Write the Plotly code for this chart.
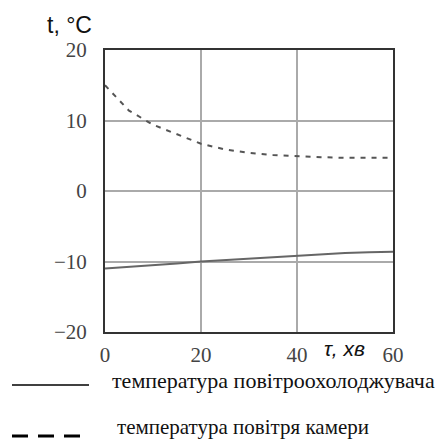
import plotly.graph_objects as go

tau = [0, 5, 10, 15, 20, 25, 30, 35, 40, 45, 50, 55, 60]
t_cooler = [-11.0, -10.8, -10.5, -10.3, -10.0, -9.8, -9.6, -9.4, -9.1, -9.0, -8.8, -8.7, -8.6]
t_chamber = [15.0, 11.4, 9.4, 8.0, 6.7, 5.9, 5.4, 5.1, 4.9, 4.8, 4.7, 4.7, 4.7]

x_ticks = [0, 20, 40, 60]
y_ticks = [-20, -10, 0, 10, 20]
legend_labels = ["температура повітроохолоджувача", "температура повітря камери"]

SERIF = "Liberation Serif"
SANS = "Liberation Sans"

fig = go.Figure()
fig.add_trace(go.Scatter(x=tau, y=t_cooler, mode="lines",
                         line=dict(color="#666666", width=2), showlegend=False))
fig.add_trace(go.Scatter(x=tau, y=t_chamber, mode="lines",
                         line=dict(color="#555555", width=2, dash="5px,6px"), showlegend=False))

W, H = 435, 441
L, R, T, B = 105, 42, 50, 109
PW, PH = W - L - R, H - T - B

axis_common = dict(showgrid=True, gridcolor="#aaaaaa", gridwidth=2,
                   zeroline=False, showline=True, linecolor="#333333", linewidth=2,
                   mirror=True, ticks="",
                   tickfont=dict(family=SERIF, size=21, color="#444444"))
fig.update_xaxes(range=[0, 60], tickvals=x_ticks, ticklabelstandoff=3, **axis_common)
fig.update_yaxes(range=[-20, 20], tickvals=y_ticks, ticklabelstandoff=12, **axis_common)

fig.update_layout(width=W, height=H, margin=dict(l=L, r=R, t=T, b=B),
                  plot_bgcolor="white", paper_bgcolor="white")

def px(x):
    return (x - L) / PW
def py(y):
    return (H - B - y) / PH

# axis titles
fig.add_annotation(text="t, °C", xref="paper", yref="paper",
                   x=px(45), y=py(25), xanchor="left", yanchor="middle",
                   showarrow=False, font=dict(family=SANS, size=23, color="#111"))
fig.add_annotation(text="<i>τ, хв</i>", xref="paper", yref="paper",
                   x=px(322), y=py(348), xanchor="left", yanchor="middle",
                   showarrow=False, font=dict(family=SANS, size=21, color="#111"))

# legend
fig.add_shape(type="line", xref="paper", yref="paper", x0=px(12), x1=px(89),
              y0=py(385), y1=py(385), line=dict(color="black", width=1.5))
fig.add_shape(type="line", xref="paper", yref="paper", x0=px(12), x1=px(80),
              y0=py(436), y1=py(436), line=dict(color="black", width=3, dash="16px,10px"))
fig.add_annotation(text=legend_labels[0], xref="paper", yref="paper",
                   x=px(110), y=py(380), xanchor="left", yanchor="middle",
                   showarrow=False, font=dict(family=SERIF, size=22, color="#111"))
fig.add_annotation(text=legend_labels[1], xref="paper", yref="paper",
                   x=px(115), y=py(427), xanchor="left", yanchor="middle",
                   showarrow=False, font=dict(family=SERIF, size=21, color="#111"))

fig.write_html("out.html")
